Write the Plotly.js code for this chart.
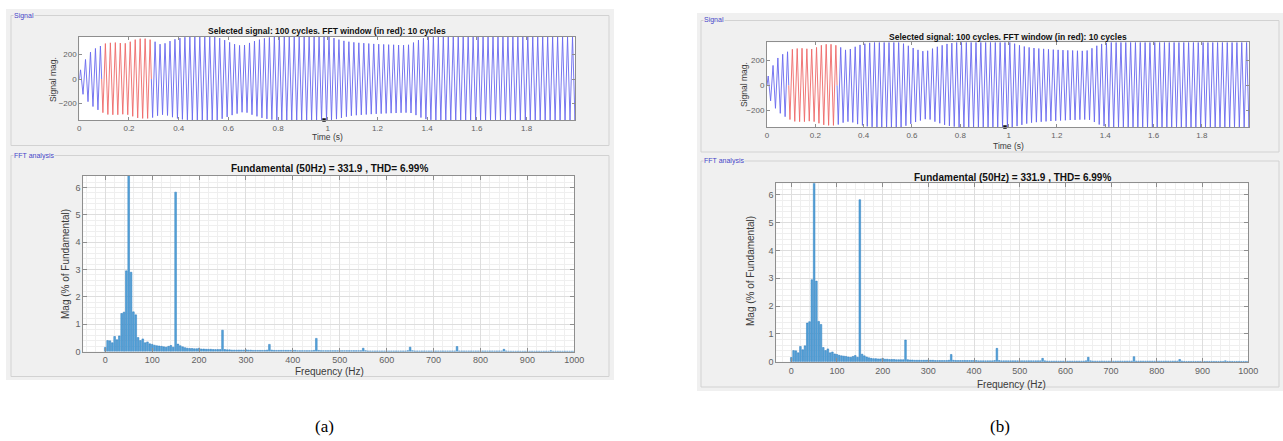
<!DOCTYPE html>
<html>
<head>
<meta charset="utf-8">
<script src="https://cdn.plot.ly/plotly-3.0.1.min.js"></script>
<style>html,body{margin:0;padding:0;background:#fff;}</style>
</head>
<body>
<div id="chart" style="width:1283px;height:441px;"></div>
<script>
// ---------------- DATA ----------------
// Signal: 100 cycles of 50 Hz over 2 s; per-cycle positive and negative peak magnitudes
const cyclePeriod = 0.02;
const posPeak = [
  75,160,220,250,270,290,296,298,294,292,
  305,322,330,330,322,305,285,292,310,325,
  335,342,346,346,346,346,346,346,335,318,
  300,285,275,278,295,310,322,333,340,346,
  346,346,346,346,346,346,346,346,346,346,
  346,335,322,312,305,300,296,293,290,287,
  285,283,281,280,278,277,280,298,318,333,
  342,346,346,346,346,346,346,346,346,346,
  346,346,346,346,346,346,346,346,346,346,
  346,346,346,346,346,346,346,346,346,346
];
const negPeak = [
  125,185,225,252,275,290,292,292,288,292,
  305,318,322,322,315,300,292,298,312,322,
  330,334,335,335,335,335,335,335,325,310,
  295,283,272,275,292,305,318,326,332,335,
  335,335,335,335,335,335,335,335,335,335,
  335,328,318,308,300,296,293,290,287,285,
  283,281,279,278,276,275,278,295,315,328,
  334,335,335,335,335,335,335,335,335,335,
  335,335,335,335,335,335,335,335,335,335,
  335,335,335,335,335,335,335,335,335,335
];
const fftWindow = [0.09, 0.29];      // red part of the signal (10 cycles)
const cursorTime = [0.985];
const signalTicks = [0, 0.2, 0.4, 0.6, 0.8, 1, 1.2, 1.4, 1.6, 1.8];
const signalYTicks = [-200, 0, 200];

// FFT magnitudes (% of fundamental), 5 Hz bins from 0 to 1000 Hz
const fftFreqStep = 5;
const fftMag = [
  0.15,0.40,0.39,0.32,0.55,0.43,0.57,1.39,1.44,2.95,100,2.90,1.45,1.34,0.51,0.40,0.46,0.32,0.35,0.28,
  0.26,0.23,0.21,0.20,0.19,0.17,0.16,0.19,0.22,0.16,5.83,0.27,0.21,0.17,0.14,0.12,0.11,0.11,0.10,0.10,
  0.12,0.09,0.09,0.08,0.08,0.08,0.07,0.07,0.07,0.07,0.78,0.07,0.06,0.06,0.05,0.05,0.05,0.05,0.05,0.05,
  0.06,0.05,0.05,0.04,0.04,0.04,0.04,0.04,0.04,0.05,0.26,0.05,0.04,0.04,0.04,0.04,0.04,0.04,0.04,0.04,
  0.04,0.04,0.03,0.03,0.03,0.03,0.03,0.03,0.03,0.04,0.48,0.04,0.03,0.03,0.03,0.03,0.03,0.03,0.03,0.03,
  0.03,0.03,0.03,0.03,0.03,0.03,0.03,0.03,0.03,0.03,0.12,0.03,0.02,0.02,0.02,0.02,0.02,0.02,0.02,0.02,
  0.02,0.02,0.02,0.02,0.02,0.02,0.02,0.02,0.02,0.03,0.16,0.03,0.02,0.02,0.02,0.02,0.02,0.02,0.02,0.02,
  0.02,0.02,0.02,0.02,0.02,0.02,0.02,0.02,0.02,0.02,0.18,0.02,0.02,0.02,0.02,0.02,0.02,0.02,0.02,0.02,
  0.02,0.02,0.02,0.02,0.02,0.02,0.02,0.02,0.02,0.02,0.08,0.02,0.01,0.01,0.01,0.01,0.01,0.01,0.01,0.01,
  0.01,0.01,0.01,0.01,0.01,0.01,0.01,0.01,0.01,0.01,0.03,0.01,0.01,0.01,0.01,0.01,0.01,0.01,0.01,0.01,
  0.01
];
const fftTicks = [0,100,200,300,400,500,600,700,800,900,1000];

const signalTitle = 'Selected signal: 100 cycles. FFT window (in red): 10 cycles';
const fftTitle = 'Fundamental (50Hz) = 331.9 , THD= 6.99%';

// ---------------- BUILD ----------------
const W = 1283, H = 441;
const px = v => v / W;
const py = v => 1 - v / H;

// signal points: start at zero, then per-cycle peaks
const pts = [{t: 0, v: 0}];
posPeak.forEach((p, k) => {
  pts.push({t: k * cyclePeriod + cyclePeriod / 4, v: p});
  pts.push({t: k * cyclePeriod + 3 * cyclePeriod / 4, v: -negPeak[k]});
});
const tEnd = posPeak.length * cyclePeriod;
pts.push({t: tEnd, v: 0});

function segment(t0, t1) {
  const xs = [], ys = [];
  if (t0 > 0) { xs.push(t0); ys.push(0); }
  pts.forEach(p => { if (p.t >= t0 && p.t <= t1) { xs.push(p.t); ys.push(p.v); } });
  if (t1 < tEnd) { xs.push(t1); ys.push(0); }
  return {xs, ys};
}
const seg1 = segment(0, fftWindow[0]);
const segR = segment(fftWindow[0], fftWindow[1]);
const seg2 = segment(fftWindow[1], tEnd);
const fftFreq = fftMag.map((_, i) => i * fftFreqStep);
const sigMin = -Math.max(...negPeak), sigMax = Math.max(...posPeak);

const blue = 'rgb(105,105,238)', red = 'rgb(238,105,105)';
function signalTraces(xa, ya) {
  return [
    {type:'scatter', mode:'lines', x:seg1.xs, y:seg1.ys, xaxis:xa, yaxis:ya, line:{color:blue, width:0.9}, hoverinfo:'skip'},
    {type:'scatter', mode:'lines', x:segR.xs, y:segR.ys, xaxis:xa, yaxis:ya, line:{color:red, width:0.9}, hoverinfo:'skip'},
    {type:'scatter', mode:'lines', x:seg2.xs, y:seg2.ys, xaxis:xa, yaxis:ya, line:{color:blue, width:0.9}, hoverinfo:'skip'},
    {type:'scatter', mode:'markers', x:cursorTime, y:[sigMin], xaxis:xa, yaxis:ya, marker:{color:'#111', size:3.5, symbol:'square'}, cliponaxis:false, hoverinfo:'skip'}
  ];
}
function fftTrace(xa, ya) {
  return {type:'bar', x:fftFreq, y:fftMag, xaxis:xa, yaxis:ya, width:3.6,
    marker:{color:'rgb(88,166,218)', line:{color:'rgb(40,120,188)', width:0.5}}, hoverinfo:'skip'};
}

const data = [
  ...signalTraces('x', 'y'), fftTrace('x2', 'y2'),
  ...signalTraces('x3', 'y3'), fftTrace('x4', 'y4')
];

const font = 'Liberation Sans, Arial, sans-serif';
const tickGrey = '#626262';
const axBase = {
  showline:true, linecolor:'#8e8e8e', linewidth:1, mirror:'ticks',
  ticks:'inside', ticklen:4, tickcolor:'#8e8e8e', tickwidth:1,
  tickfont:{family:font, size:9, color:tickGrey},
  zeroline:false, showgrid:false, fixedrange:true
};
function sigX(d0, d1) {
  return Object.assign({}, axBase, {domain:[px(d0), px(d1)], range:[0, 1.995], tickvals:signalTicks, tickfont:{family:font, size:8, color:tickGrey}, ticklen:3});
}
function sigY(d0, d1, xa) {
  return Object.assign({}, axBase, {domain:[py(d1), py(d0)], range:[sigMin, sigMax], tickvals:signalYTicks, anchor:xa, tickfont:{family:font, size:8, color:tickGrey}, ticklen:3});
}
function fftX(d0, d1, lo) {
  return Object.assign({}, axBase, {domain:[px(d0), px(d1)], range:[lo, 1000], tickvals:fftTicks,
    showgrid:true, gridcolor:'#dedede', gridwidth:1,
    minor:{dtick:20, tick0:0, showgrid:true, gridcolor:'#efefef', ticks:''}});
}
function fftY(d0, d1, xa) {
  return Object.assign({}, axBase, {domain:[py(d1), py(d0)], range:[0, 6.42], dtick:1, tick0:0, anchor:xa,
    showgrid:true, gridcolor:'#dedede', gridwidth:1,
    minor:{dtick:0.2, tick0:0, showgrid:true, gridcolor:'#efefef', ticks:''}});
}

const layout = {
  width:W, height:H, margin:{l:0, r:0, t:0, b:0},
  paper_bgcolor:'#ffffff', plot_bgcolor:'rgba(0,0,0,0)', showlegend:false,
  xaxis: Object.assign(sigX(79.3, 575), {anchor:'y'}),
  yaxis: sigY(36.7, 120, 'x'),
  xaxis2: Object.assign(fftX(83.2, 574.3, -47), {anchor:'y2'}),
  yaxis2: fftY(176, 351.5, 'x2'),
  xaxis3: Object.assign(sigX(767, 1249), {anchor:'y3'}),
  yaxis3: sigY(42.3, 127, 'x3'),
  xaxis4: Object.assign(fftX(776.2, 1248.2, -33), {anchor:'y4'}),
  yaxis4: fftY(183.3, 361.7, 'x4'),
  shapes: [],
  annotations: []
};

function rect(x0, y0, x1, y1, fill, line) {
  layout.shapes.push({type:'rect', xref:'paper', yref:'paper', layer:'below',
    x0:px(x0), x1:px(x1), y0:py(y1), y1:py(y0),
    fillcolor:fill || 'rgba(0,0,0,0)', line:{color:line || 'rgba(0,0,0,0)', width:line ? 1 : 0}});
}
// panel (a)
rect(6, 9, 614, 380, '#f0f0f0');
rect(11, 15.5, 609, 145.5, null, '#d2d2d2');
rect(11, 155.5, 609, 376.5, null, '#d2d2d2');
rect(79.3, 36.7, 575, 120, '#ffffff');
rect(83.2, 176, 574.3, 351.5, '#ffffff');
// panel (b)
rect(697, 13, 1283, 391, '#f0f0f0');
rect(701, 20.5, 1279, 152, null, '#d2d2d2');
rect(701, 161, 1279, 387, null, '#d2d2d2');
rect(767, 42.3, 1249, 127, '#ffffff');
rect(776.2, 183.3, 1248.2, 361.7, '#ffffff');

function ann(text, x, y, opts) {
  layout.annotations.push(Object.assign({xref:'paper', yref:'paper', x:px(x), y:py(y), text:text,
    showarrow:false, xanchor:'center', yanchor:'middle', font:{family:font, size:10, color:'#262626'}}, opts || {}));
}
const groupFont = {family:font, size:7, color:'#4646c8'};
function panelText(o) {
  ann('Signal', o.sigLab[0], o.sigLab[1], {xanchor:'left', font:groupFont, bgcolor:'#f0f0f0', borderpad:0});
  ann('FFT analysis', o.fftLab[0], o.fftLab[1], {xanchor:'left', font:groupFont, bgcolor:'#f0f0f0', borderpad:0});
  ann('<b>' + signalTitle + '</b>', o.sigTitle[0], o.sigTitle[1], {font:{family:font, size:8.5, color:'#111'}});
  ann('Signal mag.', o.sigY[0], o.sigY[1], {textangle:-90, font:{family:font, size:8.5, color:'#3a3a3a'}});
  ann('Time (s)', o.sigX[0], o.sigX[1], {font:{family:font, size:8.5, color:'#3a3a3a'}});
  ann('<b>' + fftTitle + '</b>', o.fftTitle[0], o.fftTitle[1], {font:{family:font, size:10, color:'#111'}});
  ann('Mag (% of Fundamental)', o.fftY[0], o.fftY[1], {textangle:-90, font:{family:font, size:10, color:'#3a3a3a'}});
  ann('Frequency (Hz)', o.fftX[0], o.fftX[1], {font:{family:font, size:10, color:'#3a3a3a'}});
  ann(o.label, o.lab[0], o.lab[1], {font:{family:'Liberation Serif, Times New Roman, serif', size:17, color:'#000'}});
}
panelText({sigLab:[13, 15.5], fftLab:[13, 155.5], sigTitle:[327, 30.5], sigY:[53, 79], sigX:[327, 137.5],
  fftTitle:[329, 168], fftY:[65, 264], fftX:[329, 371.5], label:'(a)', lab:[324, 426]});
panelText({sigLab:[703, 20.5], fftLab:[703, 161], sigTitle:[1008, 36.5], sigY:[744, 85], sigX:[1008, 145.5],
  fftTitle:[1012, 177], fftY:[750, 271], fftX:[1011, 384], label:'(b)', lab:[1000, 426]});

Plotly.newPlot('chart', data, layout, {staticPlot:true, displayModeBar:false});
</script>
</body>
</html>
